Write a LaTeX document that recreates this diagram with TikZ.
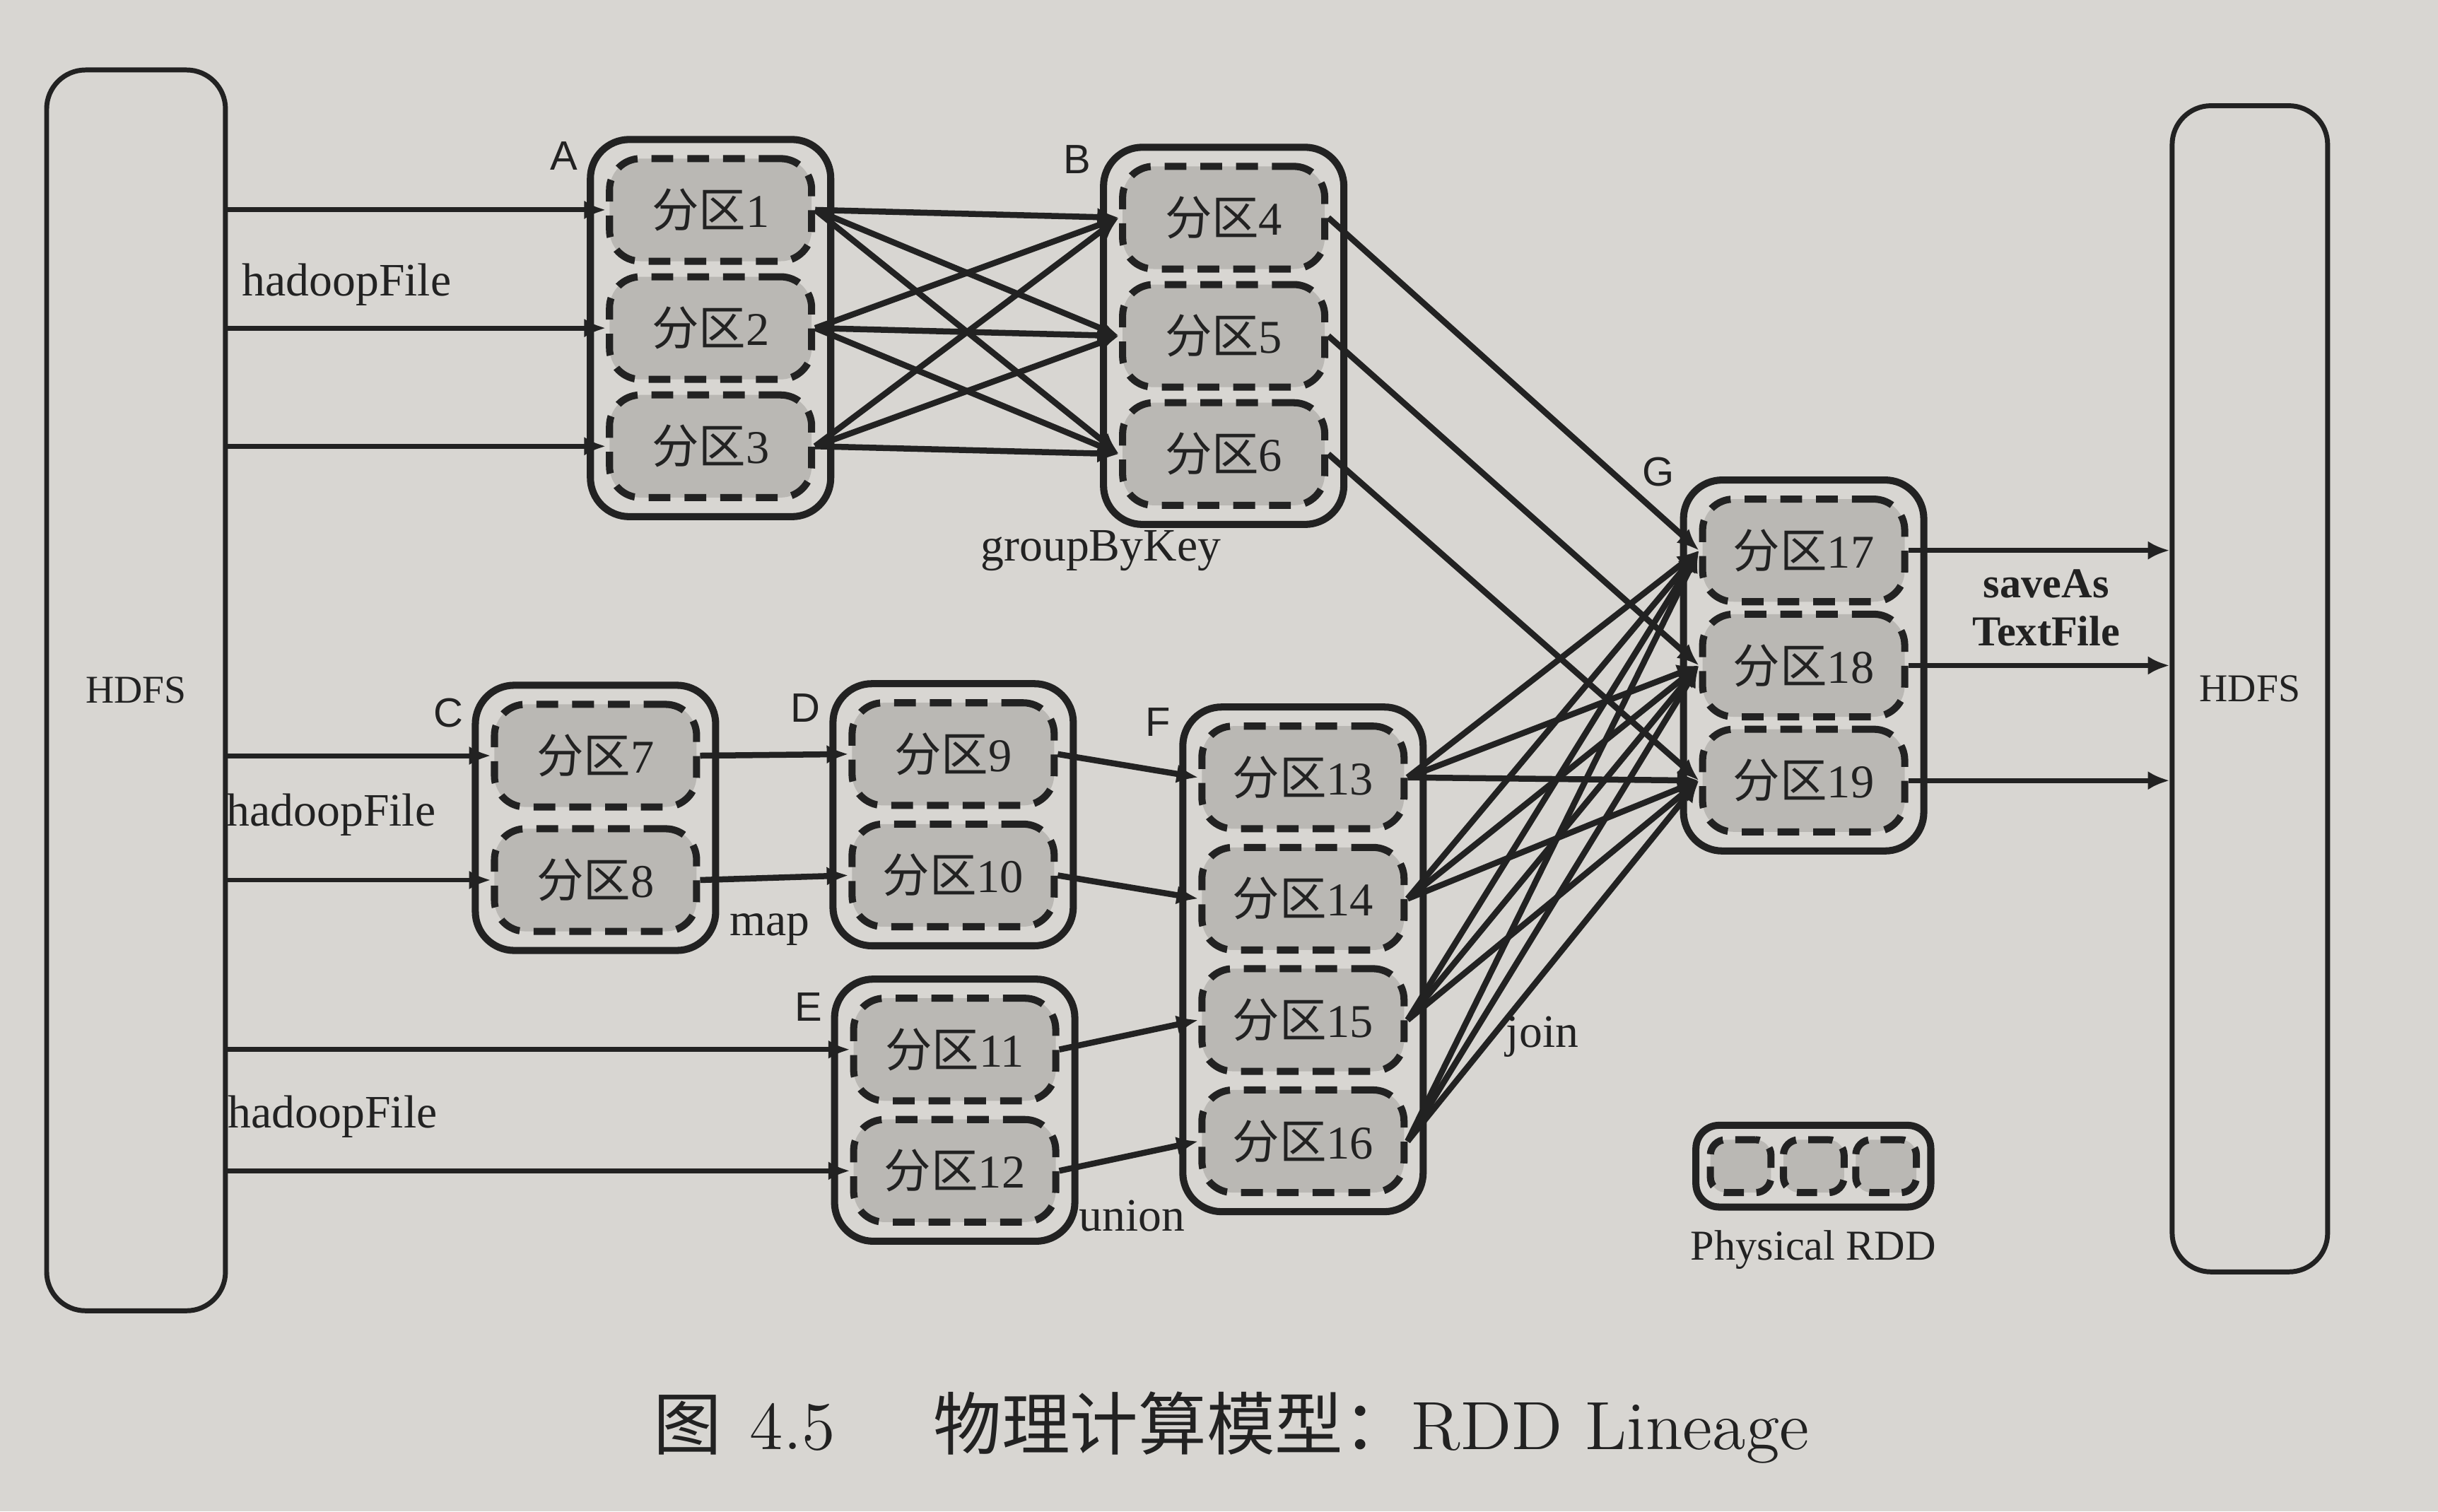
\documentclass[tikz,border=0pt]{standalone}
\usepackage{fontspec}
\newfontfamily\tnr{Liberation Serif}
\newfontfamily\cjk{Noto Sans CJK SC}
\newfontfamily\sfl{Liberation Sans}
\usetikzlibrary{fit,arrows.meta}
\definecolor{paper}{RGB}{216,214,210}
\definecolor{ink}{RGB}{34,34,34}
\definecolor{dotfill}{RGB}{186,184,180}
\begin{document}
\begin{tikzpicture}[node distance=7.6mm, >={Latex[length=1.4mm,width=1.2mm]}, color=ink,
  part/.style = {draw, line width=1.3pt, dash pattern=on 1.4mm off 0.9mm, rounded corners=2mm, fill=dotfill, minimum width=13mm, minimum height=6.6mm, inner sep=0pt, font=\tnr\fontsize{8.6}{9}\selectfont},
  rdd/.style = {draw, line width=1.3pt, rounded corners=2.5mm, inner sep=1mm},
  hdfs/.style = {draw, line width=0.9pt, rounded corners=2.5mm, font=\tnr\fontsize{7.2}{8}\selectfont},
  conn/.style = {->, line width=1.1pt},
  lbl/.style = {font=\tnr\fontsize{8.5}{10}\selectfont, inner sep=0pt},
  tag/.style = {font=\sfl\fontsize{7.5}{8}\selectfont, inner sep=0pt}]
\useasboundingbox (0,0) rectangle (15.68,9.72);
\fill[paper] (0,0) rectangle (15.68,9.72);

% storage on both sides
\node[hdfs, minimum width=11.5mm, minimum height=79.8mm] (L) at (0.875,5.28) {HDFS};
\node[hdfs, minimum width=10mm, minimum height=75mm] (R) at (14.47,5.29) {HDFS};

% partitions
\node[part] (1) at (4.57,8.37) {{\cjk 分区}1};
\node[part] (2) [below of=1] {{\cjk 分区}2};
\node[part] (3) [below of=2] {{\cjk 分区}3};
\node[part] (4) at (7.87,8.32) {{\cjk 分区}4};
\node[part] (5) [below of=4] {{\cjk 分区}5};
\node[part] (6) [below of=5] {{\cjk 分区}6};
\node[part] (7) at (3.83,4.86) {{\cjk 分区}7};
\node[part] (8) [below of=7, node distance=8mm] {{\cjk 分区}8};
\node[part] (9) at (6.13,4.87) {{\cjk 分区}9};
\node[part] (10) [below of=9, node distance=7.8mm] {{\cjk 分区}10};
\node[part] (11) at (6.14,2.97) {{\cjk 分区}11};
\node[part] (12) [below of=11, node distance=7.8mm] {{\cjk 分区}12};
\node[part] (13) at (8.38,4.72) {{\cjk 分区}13};
\node[part] (14) [below of=13, node distance=7.8mm] {{\cjk 分区}14};
\node[part] (15) [below of=14, node distance=7.8mm] {{\cjk 分区}15};
\node[part] (16) [below of=15, node distance=7.8mm] {{\cjk 分区}16};
\node[part] (17) at (11.60,6.18) {{\cjk 分区}17};
\node[part] (18) [below of=17, node distance=7.4mm] {{\cjk 分区}18};
\node[part] (19) [below of=18, node distance=7.4mm] {{\cjk 分区}19};

% RDDs
\node[rdd, fit=(1)(3)] (A) {};
\node[rdd, fit=(4)(6)] (B) {};
\node[rdd, fit=(7)(8)] (C) {};
\node[rdd, fit=(9)(10)] (D) {};
\node[rdd, fit=(11)(12)] (E) {};
\node[rdd, fit=(13)(16)] (F) {};
\node[rdd, fit=(17)(19)] (G) {};
\node[tag, anchor=east] (tA) at ([xshift=-0.5mm,yshift=-1.3mm]A.north west) {A};
\node[tag, anchor=east] (tB) at ([xshift=-0.5mm,yshift=-1.0mm]B.north west) {B};
\node[tag, anchor=east] (tC) at ([xshift=-0.5mm,yshift=-2.0mm]C.north west) {C};
\node[tag, anchor=east] (tD) at ([xshift=-0.5mm,yshift=-1.8mm]D.north west) {D};
\node[tag, anchor=east] (tE) at ([xshift=-0.5mm,yshift=-2.0mm]E.north west) {E};
\node[tag, anchor=east] (tF) at ([xshift=-0.5mm,yshift=-1.2mm]F.north west) {F};
\node[tag, anchor=east] (tG) at ([xshift=-0.3mm,yshift=0.3mm]G.north west) {G};

% labels
\node[lbl] (hf1) at (2.23,7.89) {hadoopFile};
\node[lbl] (hf2) at (2.13,4.48) {hadoopFile};
\node[lbl] (hf3) at (2.14,2.54) {hadoopFile};
\node[lbl] (gbk) at (7.08,6.18) {groupByKey};
\node[lbl] (mp) at (4.95,3.74) {map};
\node[lbl] (un) at (7.28,1.90) {union};
\node[lbl] (jn) at (9.92,3.05) {join};
\node[lbl, font=\tnr\bfseries\fontsize{7.8}{8.8}\selectfont, align=center] (sv) at (13.16,5.81) {saveAs\\TextFile};

% legend
\node[part, minimum width=3.9mm, minimum height=3.4mm, rounded corners=1mm, dash pattern=on 1.3mm off 0.8mm] (l1) at (11.195,2.22) {};
\node[part, minimum width=3.9mm, minimum height=3.4mm, rounded corners=1mm, dash pattern=on 1.3mm off 0.8mm] (l2) [right of=l1, node distance=4.7mm] {};
\node[part, minimum width=3.9mm, minimum height=3.4mm, rounded corners=1mm, dash pattern=on 1.3mm off 0.8mm] (l3) [right of=l2, node distance=4.65mm] {};
\node[rdd, fit=(l1)(l3), inner sep=0.7mm, rounded corners=1.5mm] (leg) {};
\node[lbl, font=\tnr\fontsize{7.8}{9}\selectfont] (prdd) [below of=leg, node distance=5.4mm] {Physical RDD};

% caption
\node[font=\fontsize{12.5}{14}\selectfont] (cap) at (7.92,0.54) {{\cjk 图}\hspace{1.8mm}4.5\hspace{6.3mm}{\cjk 物理计算模型：}RDD Lineage};

% hadoopFile
\draw[conn, line width=0.9pt] (L.east |- 1.west) -- (1.west);
\draw[conn, line width=0.9pt] (L.east |- 2.west) -- (2.west);
\draw[conn, line width=0.9pt] (L.east |- 3.west) -- (3.west);
\draw[conn, line width=0.9pt] (L.east |- 7.west) -- (7.west);
\draw[conn, line width=0.9pt] (L.east |- 8.west) -- (8.west);
\draw[conn, line width=0.9pt] (L.east |- 11.west) -- (11.west);
\draw[conn, line width=0.9pt] (L.east |- 12.west) -- (12.west);

% groupByKey
\draw[conn] (1.east) -- (4.west);
\draw[conn] (1.east) -- (5.west);
\draw[conn] (1.east) -- (6.west);
\draw[conn] (2.east) -- (4.west);
\draw[conn] (2.east) -- (5.west);
\draw[conn] (2.east) -- (6.west);
\draw[conn] (3.east) -- (4.west);
\draw[conn] (3.east) -- (5.west);
\draw[conn] (3.east) -- (6.west);

% map, union
\draw[conn] (7.east) -- (9.west);
\draw[conn] (8.east) -- (10.west);
\draw[conn] (9.east) -- (13.west);
\draw[conn] (10.east) -- (14.west);
\draw[conn] (11.east) -- (15.west);
\draw[conn] (12.east) -- (16.west);

% join
\draw[conn] (4.east) -- (17.west);
\draw[conn] (5.east) -- (18.west);
\draw[conn] (6.east) -- (19.west);
\draw[conn] (13.east) -- (17.west);
\draw[conn] (13.east) -- (18.west);
\draw[conn] (13.east) -- (19.west);
\draw[conn] (14.east) -- (17.west);
\draw[conn] (14.east) -- (18.west);
\draw[conn] (14.east) -- (19.west);
\draw[conn] (15.east) -- (17.west);
\draw[conn] (15.east) -- (18.west);
\draw[conn] (15.east) -- (19.west);
\draw[conn] (16.east) -- (17.west);
\draw[conn] (16.east) -- (18.west);
\draw[conn] (16.east) -- (19.west);

% saveAsTextFile
\draw[conn, line width=0.9pt] (17.east) -- (R.west |- 17.east);
\draw[conn, line width=0.9pt] (18.east) -- (R.west |- 18.east);
\draw[conn, line width=0.9pt] (19.east) -- (R.west |- 19.east);
\end{tikzpicture}
\end{document}
